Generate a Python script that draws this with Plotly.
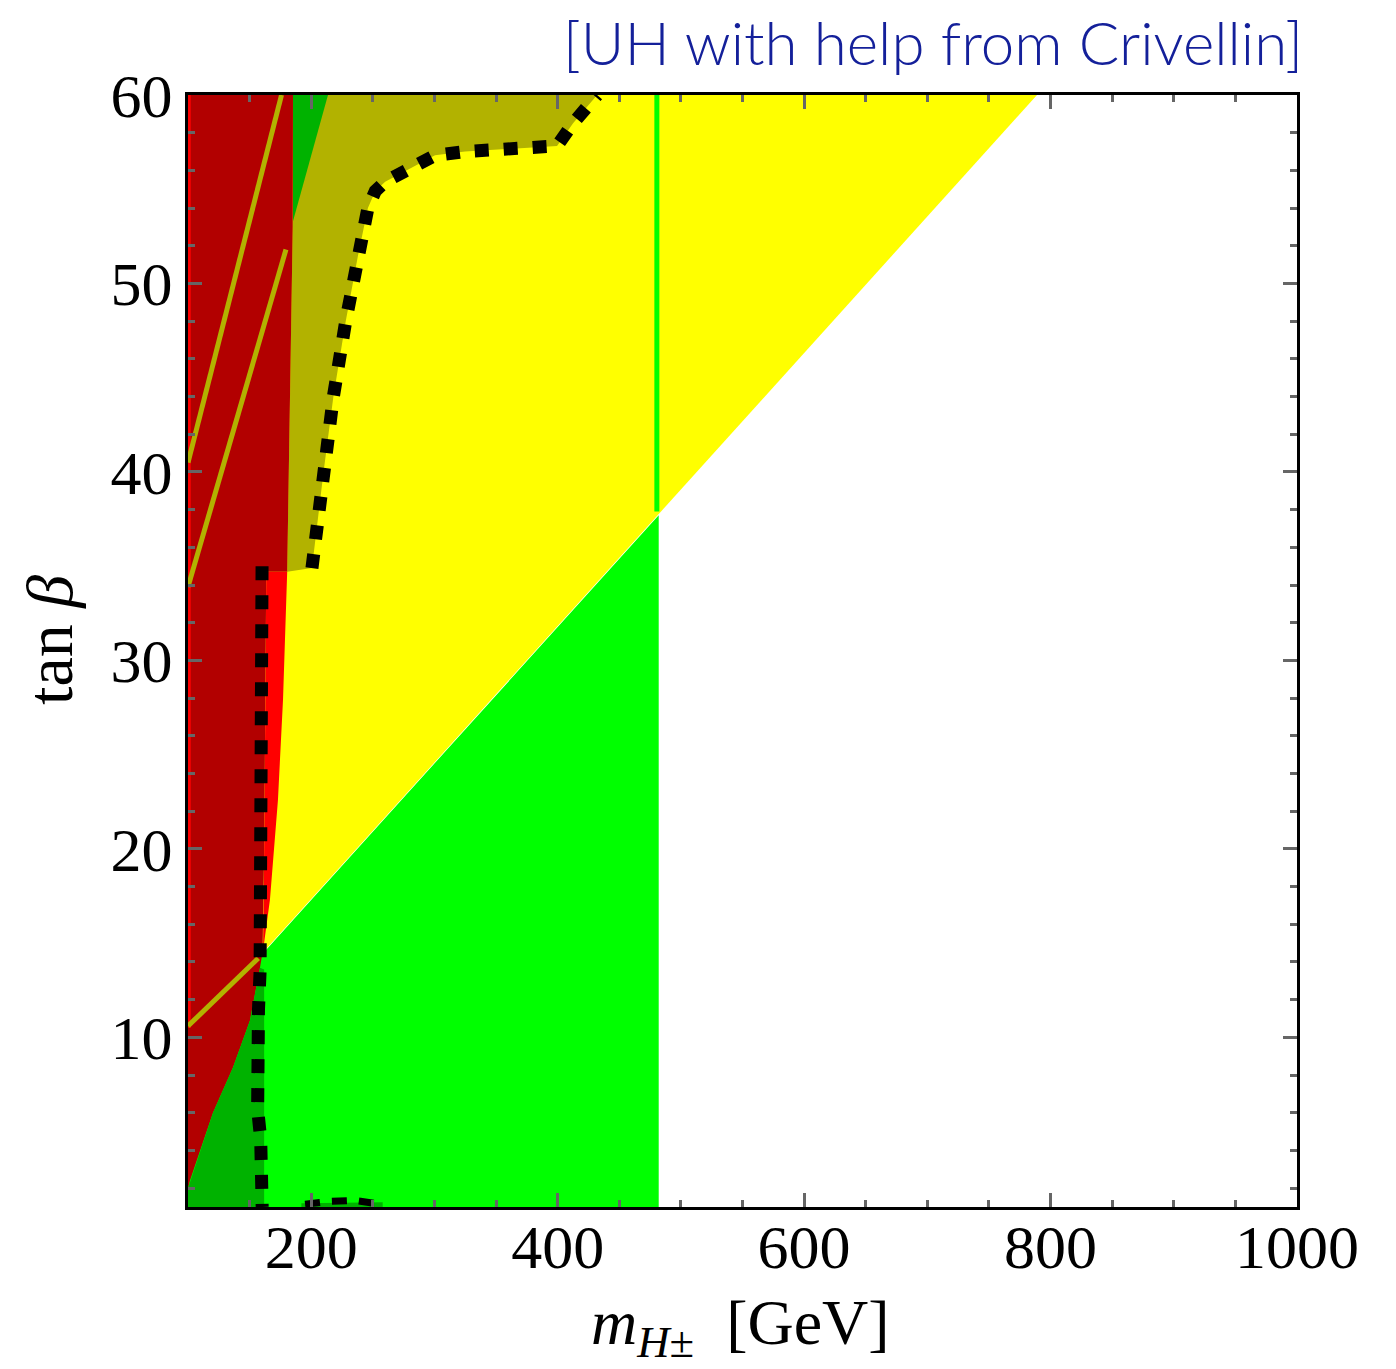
import plotly.graph_objects as go

# ---------------- data ----------------
# light-green allowed region (below diagonal, left of x~482)
green_x = [100, 482, 482, 160, 100]
green_y = [1, 1, 37.7, 14.4, 10.2]

# yellow region (above diagonal)
yellow_x = [158, 789, 158]
yellow_y = [14.3, 60, 60]

# boundary path (olive/yellow) = upper dashed line
upper_dash_x = [200.6, 210, 218, 228, 238, 246, 252, 260, 280.2, 300.5, 324.8, 347.5, 373.5, 399.5, 412.5, 432]
upper_dash_y = [34.9, 40.0, 44.0, 48.0, 51.5, 54.0, 54.9, 55.4, 56.1, 56.8, 57.0, 57.1, 57.2, 57.3, 58.5, 60.0]

# olive region left boundary
olive_left_x = [185.2, 185.0, 180.5]
olive_left_y = [60, 53, 34.7]

# dark green triangle at top
dgreen_top_x = [185.2, 213.6, 185.2]
dgreen_top_y = [60, 60, 53.3]

# dark red region
dred_x = [100, 100, 185.2, 185.0, 180.5, 163.5, 162.8, 161.8, 160.5, 158.4, 150.3, 136.5, 120.3, 101.6]
dred_y = [2.0, 60, 60, 53, 34.7, 34.7, 28, 20, 14.5, 13.7, 10.9, 8.4, 6.0, 2.4]

# bright red region
bred_x = [163.5, 180.5, 177.1, 173.0, 166.5, 160.9, 161.8, 162.8]
bred_y = [34.7, 34.7, 27.9, 22.6, 17.3, 14.6, 20, 28]

# thin bright red strip at left edge
bstrip_x = [100, 102.2, 102.2, 100]
bstrip_y = [10.5, 10.5, 60, 60]

# dark green bottom-left region
dgreen_x = [100, 161.8, 161.8, 158.4, 150.3, 136.5, 120.3, 101.6, 100]
dgreen_y = [1, 1, 13.6, 13.7, 10.9, 8.4, 6.0, 2.4, 2.0]

# small dark-green patch at bottom
dgreen_b_x = [192, 258, 258, 192]
dgreen_b_y = [1, 1, 1.25, 1.2]

# olive stripes inside the dark red region
stripe1_x = [175.9, 100]
stripe1_y = [60, 40.5]
stripe2_x = [179.5, 100]
stripe2_y = [51.8, 33.9]
stripe3_x = [100, 157]
stripe3_y = [10.6, 14.2]

# green vertical line
vline_x = [480.5, 480.5]
vline_y = [37.9, 60]

# lower dashed line
lower_dash_x = [160.1, 160.1, 159.8, 158.5, 157.2, 156.0, 155.2, 156.5, 159.0, 160.0, 160.2]
lower_dash_y = [35.0, 20, 15.5, 13.5, 11.5, 9.3, 7.7, 6.2, 4.6, 3.0, 1.0]

# short dashed segment at the bottom
bottom_dash_x = [195, 215, 235, 256]
bottom_dash_y = [1.15, 1.3, 1.35, 1.15]

x_ticks = [200, 400, 600, 800, 1000]
y_ticks = [10, 20, 30, 40, 50, 60]

LGREEN = "#00FF00"
DGREEN = "#00B200"
YELLOW = "#FFFF00"
OLIVE = "#B2B200"
DRED = "#B20000"
RED = "#FF0000"

fig = go.Figure()

def poly(xs, ys, color):
    fig.add_trace(go.Scatter(x=xs, y=ys, fill="toself", fillcolor=color, mode="lines",
                             line=dict(width=0, color=color), hoverinfo="skip", showlegend=False))

def line(xs, ys, color, width, dash="solid"):
    fig.add_trace(go.Scatter(x=xs, y=ys, mode="lines", line=dict(width=width, color=color, dash=dash),
                             hoverinfo="skip", showlegend=False))

poly(green_x, green_y, LGREEN)
poly(yellow_x, yellow_y, YELLOW)
poly(olive_left_x + upper_dash_x + [432], olive_left_y + upper_dash_y + [60], OLIVE)
poly(dgreen_top_x, dgreen_top_y, DGREEN)
poly(dred_x, dred_y, DRED)
poly(bred_x, bred_y, RED)
poly(bstrip_x, bstrip_y, RED)
poly(dgreen_x, dgreen_y, DGREEN)
poly(dgreen_b_x, dgreen_b_y, DGREEN)

line(stripe1_x, stripe1_y, OLIVE, 5)
line(stripe2_x, stripe2_y, OLIVE, 5)
line(stripe3_x, stripe3_y, OLIVE, 5)
line(vline_x, vline_y, LGREEN, 5)

line(upper_dash_x, upper_dash_y, "black", 13, "14px,15px")
line(lower_dash_x, lower_dash_y, "black", 13, "14px,15px")
line(bottom_dash_x, bottom_dash_y, "black", 7, "15px,12px")

tickfont = dict(family="Liberation Serif", size=62, color="black")

fig.update_xaxes(range=[100, 1000], tickmode="array", tickvals=x_ticks,
                 ticktext=[str(v) for v in x_ticks], ticklabelstandoff=-16,
                 ticks="inside", ticklen=14, tickwidth=2.5, tickcolor="#666",
                 showline=True, linecolor="black", linewidth=3, mirror="ticks",
                 showgrid=False, zeroline=False, tickfont=tickfont,
                 minor=dict(tickmode="linear", tick0=100, dtick=50, ticks="inside",
                            ticklen=7, tickwidth=2.5, tickcolor="#666", showgrid=False))
fig.update_yaxes(range=[1, 60], tickmode="array", tickvals=y_ticks,
                 ticktext=[str(v) for v in y_ticks],
                 ticks="inside", ticklen=14, tickwidth=2.5, tickcolor="#666",
                 showline=True, linecolor="black", linewidth=3, mirror="ticks",
                 showgrid=False, zeroline=False, tickfont=tickfont,
                 minor=dict(tickmode="linear", tick0=0, dtick=2, ticks="inside",
                            ticklen=7, tickwidth=2.5, tickcolor="#666", showgrid=False))

fig.add_annotation(text="<i>m</i><sub><i>H</i>±</sub>  [GeV]", xref="paper", yref="paper",
                   x=0.498, y=0, xanchor="center", yanchor="top", yshift=-78,
                   showarrow=False, font=dict(family="Liberation Serif", size=64, color="black"))
fig.add_annotation(text="tan <i>β</i>", xref="paper", yref="paper",
                   x=0, y=0.51, xanchor="center", yanchor="middle", xshift=-138,
                   textangle=-90, showarrow=False,
                   font=dict(family="Liberation Serif", size=66, color="black"))
fig.add_annotation(text="[UH with help from Crivellin]", xref="paper", yref="paper",
                   x=1, y=1, xanchor="right", yanchor="middle", xshift=8, yshift=53,
                   showarrow=False, font=dict(family="Lato", size=60, weight=300, color="#14209A"))

fig.update_layout(width=1396, height=1369, margin=dict(l=188, r=99, t=95, b=162),
                  plot_bgcolor="white", paper_bgcolor="white", showlegend=False)

fig.write_html("out.html")
